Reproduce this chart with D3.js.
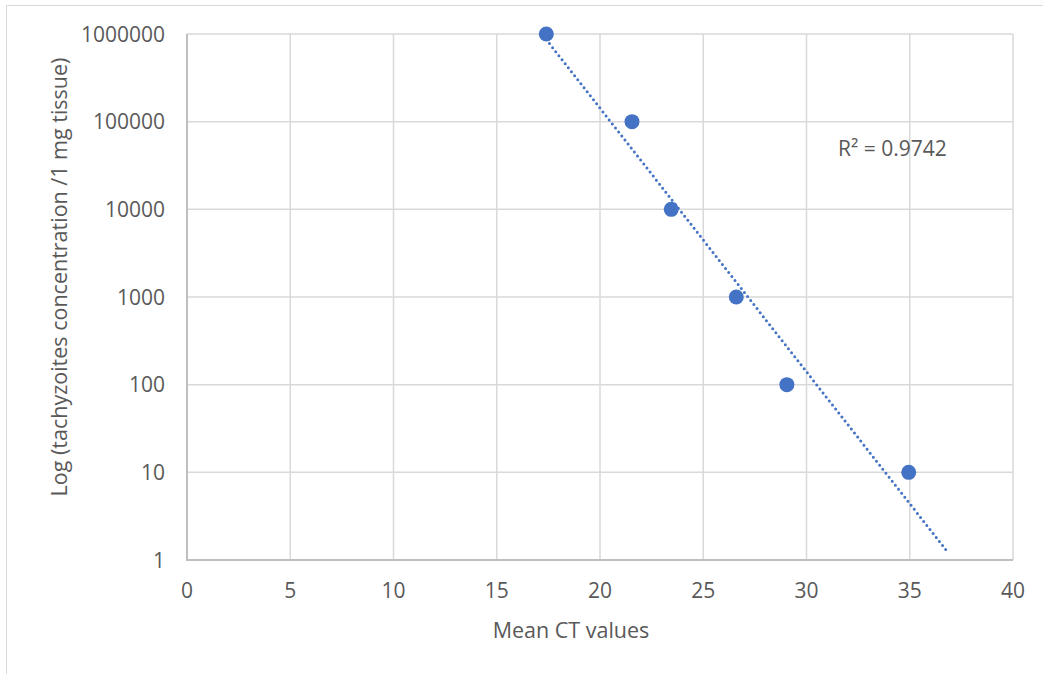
<!DOCTYPE html>
<html>
<head>
<meta charset="utf-8">
<script src="https://cdn.jsdelivr.net/npm/d3@7"></script>
<style>
  body { margin: 0; background: #fff; }
  text { font-family: "Open Sans", "Liberation Sans", sans-serif; fill: #595959; }
</style>
</head>
<body>
<script>
// Data
const ctValues = [17.4, 21.55, 23.45, 26.6, 29.05, 34.95];
const concentrations = [1000000, 100000, 10000, 1000, 100, 10];
const xTicks = [0, 5, 10, 15, 20, 25, 30, 35, 40];
const yTicks = [1, 10, 100, 1000, 10000, 100000, 1000000];
const trendEndX = 36.8;
const r2Label = "R² = 0.9742";

const width = 1043, height = 674;
const margin = {left: 187, top: 34, right: 30, bottom: 114};

const svg = d3.select("body").append("svg")
    .attr("width", width)
    .attr("height", height);

// chart frame
svg.append("rect")
    .attr("x", 6.5).attr("y", 5.5)
    .attr("width", width + 10).attr("height", height + 10)
    .attr("fill", "none")
    .attr("stroke", "#d9d9d9");

const x = d3.scaleLinear().domain([0, 40]).range([margin.left, 1013]);
const y = d3.scaleLog().domain([1, 1000000]).range([560, margin.top]);

// gridlines
svg.append("g").selectAll("line")
    .data(xTicks.slice(1))
    .enter().append("line")
    .attr("x1", d => x(d)).attr("x2", d => x(d))
    .attr("y1", y(1000000)).attr("y2", y(1))
    .attr("stroke", "#d9d9d9").attr("stroke-width", 1.5);

svg.append("g").selectAll("line")
    .data(yTicks.slice(1))
    .enter().append("line")
    .attr("x1", x(0)).attr("x2", x(40))
    .attr("y1", d => y(d)).attr("y2", d => y(d))
    .attr("stroke", "#d9d9d9").attr("stroke-width", 1.5);

// axis lines
svg.append("line")
    .attr("x1", x(0)).attr("x2", x(0))
    .attr("y1", y(1000000)).attr("y2", y(1) + 1)
    .attr("stroke", "#bfbfbf").attr("stroke-width", 2);
svg.append("line")
    .attr("x1", x(0) - 1).attr("x2", x(40))
    .attr("y1", y(1)).attr("y2", y(1))
    .attr("stroke", "#bfbfbf").attr("stroke-width", 2);

// tick labels
svg.append("g").selectAll("text")
    .data(xTicks)
    .enter().append("text")
    .attr("x", d => x(d))
    .attr("y", 598)
    .attr("text-anchor", "middle")
    .style("font-size", "21px")
    .text(d => d);

svg.append("g").selectAll("text")
    .data(yTicks)
    .enter().append("text")
    .attr("x", 165)
    .attr("y", d => y(d))
    .attr("dy", "0.36em")
    .attr("text-anchor", "end")
    .style("font-size", "21px")
    .text(d => d);

// axis titles
svg.append("text")
    .attr("x", 571).attr("y", 638)
    .attr("text-anchor", "middle")
    .style("font-size", "21.5px")
    .text("Mean CT values");

svg.append("text")
    .attr("transform", "translate(67, 277) rotate(-90)")
    .attr("text-anchor", "middle")
    .style("font-size", "21.5px")
    .text("Log (tachyzoites concentration /1 mg tissue)");

// exponential trendline: linear fit of log10(y) on x
const ly = concentrations.map(v => Math.log10(v));
const mx = d3.mean(ctValues), my = d3.mean(ly);
const slope = d3.sum(ctValues, (v, i) => (v - mx) * (ly[i] - my)) /
    d3.sum(ctValues, v => (v - mx) * (v - mx));
const intercept = my - slope * mx;
const trendX = [d3.min(ctValues), trendEndX];

svg.append("path")
    .datum(trendX)
    .attr("d", d3.line()
        .x(d => x(d))
        .y(d => y(Math.pow(10, intercept + slope * d))))
    .attr("fill", "none")
    .attr("stroke", "#4472c4")
    .attr("stroke-width", 3)
    .attr("stroke-linecap", "round")
    .attr("stroke-dasharray", "0 5.1");

// points
svg.append("g").selectAll("circle")
    .data(ctValues)
    .enter().append("circle")
    .attr("cx", d => x(d))
    .attr("cy", (d, i) => y(concentrations[i]))
    .attr("r", 7.5)
    .attr("fill", "#4472c4");

svg.append("text")
    .attr("x", 838).attr("y", 156)
    .style("font-size", "21px")
    .text(r2Label);
</script>
</body>
</html>
